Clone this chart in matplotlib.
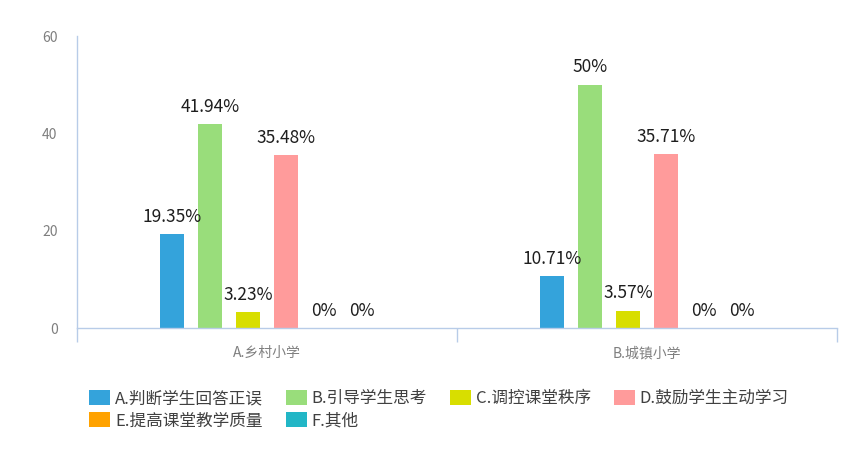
import numpy as np
import matplotlib
matplotlib.use("Agg")
import matplotlib.pyplot as plt

plt.rcParams['font.family'] = ['Noto Sans CJK SC', 'DejaVu Sans']

# data
schools = ['A.乡村小学', 'B.城镇小学']
options = ['A.判断学生回答正误', 'B.引导学生思考', 'C.调控课堂秩序', 'D.鼓励学生主动学习',
           'E.提高课堂教学质量', 'F.其他']
values = [
    [19.35, 10.71],
    [41.94, 50.0],
    [3.23, 3.57],
    [35.48, 35.71],
    [0, 0],
    [0, 0],
]
labels = [
    ['19.35%', '10.71%'],
    ['41.94%', '50%'],
    ['3.23%', '3.57%'],
    ['35.48%', '35.71%'],
    ['0%', '0%'],
    ['0%', '0%'],
]
colors = ['#34A3DB', '#99DD7B', '#D8DE00', '#FF9B9B', '#FFA200', '#22B6C6']

axis_col = '#B8CCE8'

fig = plt.figure(figsize=(8.5, 4.62), dpi=100)
ax = fig.add_axes([0.0906, 0.29, 0.894, 0.632])

x = np.arange(len(schools))
slot = 0.1
bars = []
for i, (vals, col) in enumerate(zip(values, colors)):
    pos = x + (i - 2.5) * slot
    b = ax.bar(pos, vals, width=0.063, color=col, label=options[i], zorder=2)
    bars.append(b)
    for xp, v, lab in zip(pos, vals, labels[i]):
        ax.annotate(lab, (xp, v), xytext=(0, 6), textcoords='offset points',
                    ha='center', va='bottom', fontsize=12.5, color='#1E1E1E')

ax.set_xlim(-0.5, 1.5)
ax.set_ylim(0, 60)
ax.set_yticks([0, 20, 40, 60])
ax.tick_params(axis='y', length=0, pad=14, labelsize=10, labelcolor='#7F7F7F')

ax.set_xticks([-0.5, 0.5, 1.5])
ax.set_xticklabels([])
ax.tick_params(axis='x', which='major', length=10, width=1, color=axis_col)
ax.set_xticks(x, minor=True)
ax.set_xticklabels(schools, minor=True)
ax.tick_params(axis='x', which='minor', length=0, pad=13, labelsize=10, labelcolor='#7F7F7F')

for s in ['top', 'right']:
    ax.spines[s].set_visible(False)
for s in ['left', 'bottom']:
    ax.spines[s].set_color(axis_col)
    ax.spines[s].set_linewidth(1)

# legend: rows A B C D / E F
order = [0, 4, 1, 5, 2, 3]
handles = [bars[k] for k in order]
names = [options[k] for k in order]
fig.legend(handles, names, ncol=4, loc='upper left', bbox_to_anchor=(0.1047, 0.156),
           frameon=False, fontsize=12, labelcolor='#404040', borderpad=0,
           borderaxespad=0, handlelength=1.26, handleheight=1.02, handletextpad=0.3,
           columnspacing=1.37, labelspacing=0.3)

fig.savefig('out.png', dpi=100)
